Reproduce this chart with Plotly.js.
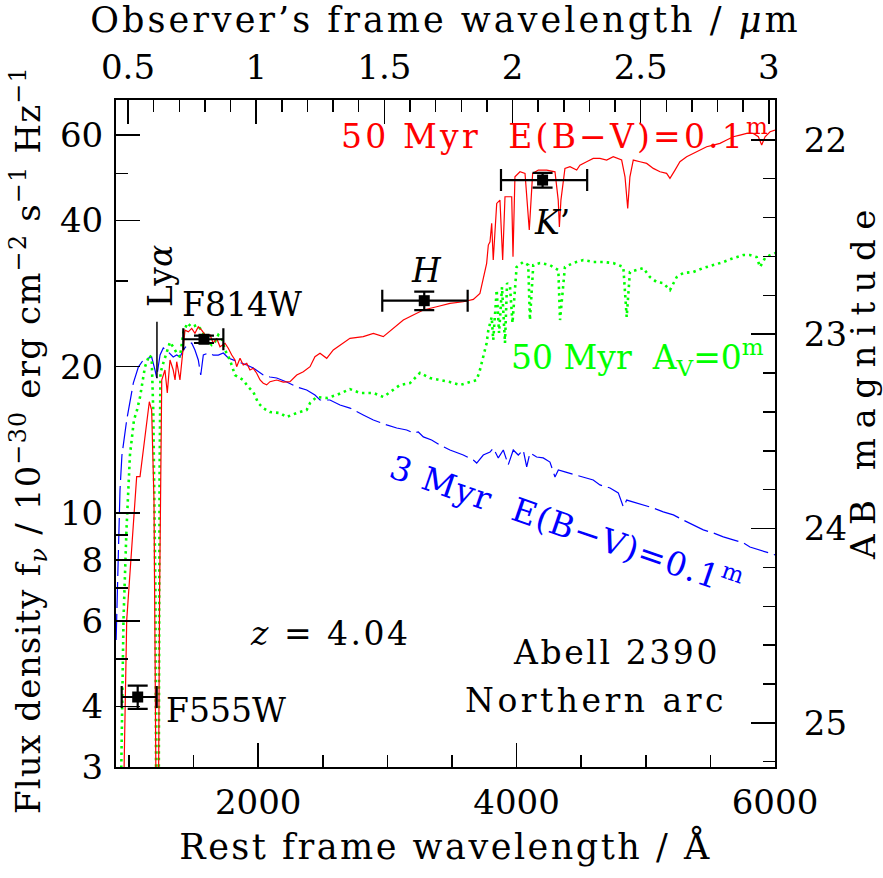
<!DOCTYPE html>
<html><head><meta charset="utf-8">
<script src="https://cdn.plot.ly/plotly-3.0.1.min.js"></script>
<style>html,body{margin:0;padding:0;background:#fff}</style>
</head><body><div id="chart" style="width:883px;height:878px"></div>
<script>
// ---- data (rest-frame wavelength in Angstrom, flux density in 1e-30 erg/cm2/s/Hz) ----
const redLambda=[950,982,1059,1085,1157,1175,1193,1209,1220,1236,1253,1278,1296,1317,1342,1356,1369,1394,1415,1433,1459,1485,1510,1536,1562,1588,1627,1652,1678,1704,1743,1768,1795,1820,1833,1859,1884,1911,1936,1962,1988,2014,2039,2065,2091,2143,2194,2246,2298,2349,2401,2439,2478,2530,2581,2633,2685,2710,2813,2891,2968,3045,3123,3200,3278,3381,3484,3587,3665,3716,3742,3768,3781,3794,3807,3819,3846,3871,3892,3910,3935,3962,3972,3987,4026,4065,4098,4124,4168,4233,4297,4322,4331,4343,4374,4413,4465,4490,4542,4593,4645,4697,4748,4813,4839,4860,4877,4903,4955,5007,5058,5110,5161,5187,5226,5264,5316,5367,5419,5471,5522,5574,5626,5677,5729,5781,5832,5871,5897,5923,5962,6000];
const redFlux=[2.0,6.02,11.88,11.88,16.94,16.29,10.63,1.0,1.0,6.62,18.78,19.69,17.66,20.65,19.69,18.78,20.48,18.78,21.47,23.79,23.6,23.99,23.43,24.17,23.79,23.25,23.25,22.35,22.88,21.99,22.35,21.83,21.14,20.65,20.0,20.81,20.16,20.32,19.69,19.85,19.39,18.78,18.49,18.35,18.63,18.78,18.6,18.63,19.23,19.53,20.0,20.97,21.31,20.81,21.65,22.17,22.7,22.88,23.06,23.43,23.06,23.99,24.95,25.55,26.17,26.58,27.01,27.21,27.52,28.32,30.63,32.65,35.6,36.16,39.46,33.16,43.37,44.06,33.16,44.76,44.76,44.76,33.69,49.2,50.38,50.0,38.22,50.0,50.79,50.79,50.38,44.06,38.77,44.06,51.2,51.6,50.79,52.0,52.83,53.69,53.69,53.26,54.1,53.26,49.2,42.36,49.2,53.26,52.83,52.42,51.2,50.38,50.0,48.83,50.79,52.83,54.1,54.97,55.84,56.72,57.18,57.65,58.56,59.48,59.96,60.43,60.43,59.48,57.18,59.48,60.9,61.4];

const greenLambda=[930,957,980,1007,1038,1062,1085,1123,1157,1175,1188,1205,1214,1226,1236,1243,1265,1291,1317,1342,1369,1394,1420,1451,1485,1524,1562,1601,1640,1665,1691,1717,1743,1781,1820,1859,1884,1923,1962,2000,2039,2091,2168,2220,2298,2375,2401,2452,2530,2607,2710,2788,2891,2968,3020,3097,3175,3252,3329,3407,3484,3562,3639,3691,3716,3742,3768,3781,3807,3819,3846,3864,3887,3910,3926,3949,3968,4000,4051,4090,4103,4129,4181,4258,4323,4336,4374,4438,4516,4593,4671,4748,4826,4852,4877,4929,4980,5032,5084,5135,5187,5239,5290,5367,5445,5522,5600,5677,5754,5806,5858,5884,5923,5962,6000];
const greenFlux=[2.0,6.02,9.23,13.16,15.54,16.29,17.33,19.97,21.14,20.84,16.06,6.62,1.0,1.0,11.69,19.42,20.35,21.34,22.48,21.96,21.34,20.94,23.47,24.6,24.14,24.37,23.79,22.7,22.17,22.48,23.25,22.91,21.65,20.65,19.23,18.96,18.78,18.17,17.74,16.84,16.44,16.13,16.06,15.76,16.06,16.29,16.84,17.33,17.24,17.49,17.99,17.66,17.66,17.33,17.74,18.34,18.51,19.42,18.96,18.78,18.6,18.34,18.6,18.78,19.69,21.14,22.38,23.79,25.31,22.7,28.77,23.47,29.17,22.38,29.73,29.17,24.6,32.08,32.85,32.38,24.95,32.38,32.69,32.38,31.62,24.95,32.08,32.69,33.16,32.85,32.85,32.69,32.08,25.31,31.33,31.62,31.93,30.59,29.88,29.73,28.77,30.59,31.18,31.33,31.93,32.38,32.85,33.47,33.95,33.95,33.63,32.08,33.47,33.95,34.28];

const blueLambda=[900,917,930,945,982,1033,1072,1110,1149,1175,1201,1214,1228,1240,1265,1304,1342,1369,1394,1420,1451,1485,1510,1536,1555,1575,1613,1652,1691,1730,1768,1807,1859,1911,1962,2039,2091,2143,2220,2298,2375,2439,2478,2555,2633,2710,2813,2891,2994,3072,3149,3200,3239,3278,3342,3407,3484,3587,3665,3691,3742,3794,3819,3858,3897,3935,3974,4013,4051,4078,4103,4155,4206,4258,4297,4323,4374,4452,4516,4593,4645,4723,4787,4826,4852,4903,4980,5058,5135,5213,5290,5367,5445,5522,5600,5677,5754,5806,5884,5948,6000];
const blueFlux=[5.48,7.74,11.15,13.16,15.54,18.51,19.97,20.65,20.84,20.94,19.69,18.96,20.16,21.14,21.86,21.45,20.94,21.14,20.94,21.65,22.17,22.38,21.65,20.65,19.23,21.14,21.34,21.14,21.14,21.34,20.84,20.65,20.45,20.16,19.88,19.23,19.05,18.96,18.6,18.17,17.91,17.49,17.08,17.08,16.68,16.44,15.91,15.54,15.18,14.96,14.82,14.61,14.68,14.34,14.13,13.8,13.48,13.16,12.85,12.67,13.16,13.35,13.6,12.98,13.48,12.56,13.48,13.16,13.48,12.44,13.29,13.04,12.98,12.73,11.86,12.26,12.15,11.97,11.86,11.69,11.42,11.26,11.0,10.29,10.63,10.53,10.39,10.24,10.05,9.91,9.67,9.45,9.23,9.1,8.93,8.8,8.68,8.51,8.39,8.28,8.2];

// photometry
const photBands=['F555W','F814W','H',"K'"];
const photLambda=[1067,1580,3285,4201];
const photLambdaErrMinus=[124,160,325,322];
const photLambdaErrPlus=[147,150,336,345];
const photFlux=[4.18,22.78,27.35,48.44];
const photFluxErr=[0.23,0.4,1.2,1.7];

// Ly-alpha marker
const lyaLambda=[1216,1216];
const lyaFlux=[18.93,24.75];

const redshift=4.04;
const abZero=26.42;        // AB = abZero - 2.5 log10(f)
const restRange=[899,6000];
const fluxRange=[3.0,70.8];

// tick labels
const restTicks=[2000,4000,6000];
const obsTicks=[0.5,1,1.5,2,2.5,3];
const obsTickText=['0.5','1','1.5','2','2.5','3'];
const fluxTicks=[3,4,6,8,10,20,40,60];
const fluxMinor=[5,7,9,30,50];
const magTicks=[22,23,24,25];

// ---- drawing ----
const FF='DejaVu Serif';
const tickFont={family:FF,size:34,color:'#000'};
const obsRange=restRange.map(l=>l*(1+redshift)/1e4);
const logRange=fluxRange.map(f=>Math.log10(f));
const magRange=logRange.map(l=>abZero-2.5*l);
const sp=(t,s)=>'<span style="letter-spacing:'+s+'px">'+t+'</span>';

const traces=[
 {x:blueLambda,y:blueFlux,type:'scatter',mode:'lines',line:{color:'#0000ff',width:1.2,dash:'26px,6px'},hoverinfo:'skip'},
 {x:greenLambda,y:greenFlux,type:'scatter',mode:'lines',line:{color:'#00ff00',width:2.6,dash:'2.5px,4px'},hoverinfo:'skip'},
 {x:redLambda,y:redFlux,type:'scatter',mode:'lines',line:{color:'#ff0000',width:1.2},hoverinfo:'skip'},
 {x:lyaLambda,y:lyaFlux,type:'scatter',mode:'lines',line:{color:'#000',width:1.5},hoverinfo:'skip'},
 {x:photLambda,y:photFlux,type:'scatter',mode:'markers',
  marker:{symbol:'square',size:11,color:'#000'},
  error_x:{type:'data',symmetric:false,array:photLambdaErrPlus,arrayminus:photLambdaErrMinus,color:'#000',thickness:2.2,width:11},
  error_y:{type:'data',array:photFluxErr,color:'#000',thickness:2.2,width:10}},
 // carries the observer-frame (top) and AB-magnitude (right) axes
 {x:obsRange,y:magRange,xaxis:'x2',yaxis:'y2',type:'scatter',mode:'markers',marker:{opacity:0,size:1},hoverinfo:'skip'}
];

const px=p=>(p-116)/659, py=p=>(767-p)/667;
function ann(text,x,y,opt){return Object.assign({text:text,x:px(x),y:py(y),xref:'paper',yref:'paper',showarrow:false,xanchor:'center',yanchor:'middle',font:{family:FF,size:33,color:'#000'}},opt||{});}

const annotations=[
 ann(sp('50 Myr  E(B−V)=0.1<sup>m</sup>',3.2),773,134,{xanchor:'right',font:{family:FF,size:33,color:'#ff0000'}}),
 ann('50 Myr  A<sub>V</sub>=0<sup>m</sup>',766,357,{xanchor:'right',font:{family:FF,size:33,color:'#00ff00'}}),
 ann(sp('3 Myr  E(B−V)=0.1<sup>m</sup>',1.2),567,524,{textangle:19,font:{family:FF,size:33,color:'#0000ff'}}),
 ann(sp('<i>z</i> = 4.04',2.5),330,633),
 ann(sp('Abell 2390',2.6),722,652,{xanchor:'right'}),
 ann(sp('Northern arc',3.5),729,700,{xanchor:'right'}),
 ann('F555W',164,710,{xanchor:'left'}),
 ann('F814W',180,304,{xanchor:'left'}),
 ann('Ly<i>α</i>',160,276,{textangle:-90}),
 ann('<i>H</i>',426,270),
 ann('<i>K</i>’',552,222),
 ann(sp('Flux density f<sub><i>ν</i></sub> / 10<sup>−30</sup> erg cm<sup>−2</sup> s<sup>−1</sup> Hz<sup>−1</sup>',1.2),28,440,{textangle:-90,font:{family:FF,size:34,color:'#000'}}),
 ann(sp('AB magnitude',9.5),863,380,{textangle:-90,font:{family:FF,size:34,color:'#000'}})
];

const common={showgrid:false,zeroline:false,showline:true,linecolor:'#000',linewidth:2,ticks:'inside',ticklen:24,tickwidth:1.5,tickcolor:'#000',tickfont:tickFont,tickmode:'array'};
const minorCommon={ticks:'inside',ticklen:12,tickwidth:1.5,tickcolor:'#000',showgrid:false};

const layout={
 width:883,height:878,
 margin:{l:116,r:108,t:100,b:111,pad:0},
 paper_bgcolor:'#fff',plot_bgcolor:'#fff',showlegend:false,
 font:{family:FF,color:'#000'},
 xaxis:Object.assign({},common,{range:restRange,tickvals:restTicks,ticktext:restTicks.map(String),ticklabelstandoff:4,
   minor:Object.assign({},minorCommon,{tickmode:'linear',tick0:0,dtick:500}),
   title:{text:sp('Rest frame wavelength / Å',2.5),font:{family:FF,size:35,color:'#000'},standoff:14}}),
 xaxis2:Object.assign({},common,{overlaying:'x',side:'top',anchor:'y',range:obsRange,tickvals:obsTicks,ticktext:obsTickText,ticklabelstandoff:5,
   minor:Object.assign({},minorCommon,{tickmode:'linear',tick0:0,dtick:0.1}),
   title:{text:sp('Observer’s frame wavelength / <i>μ</i>m',3),font:{family:FF,size:35,color:'#000'},standoff:5}}),
 yaxis:Object.assign({},common,{type:'log',range:logRange,tickvals:fluxTicks,ticktext:fluxTicks.map(String),ticklabelstandoff:4,
   minor:Object.assign({},minorCommon,{tickmode:'array',tickvals:fluxMinor})}),
 yaxis2:Object.assign({},common,{overlaying:'y',side:'right',anchor:'x',range:magRange,tickvals:magTicks,ticktext:magTicks.map(String),ticklabelstandoff:20,
   minor:Object.assign({},minorCommon,{tickmode:'linear',tick0:0,dtick:0.2})}),
 annotations:annotations
};

Plotly.newPlot('chart',traces,layout,{displayModeBar:false,staticPlot:true});
</script></body></html>
